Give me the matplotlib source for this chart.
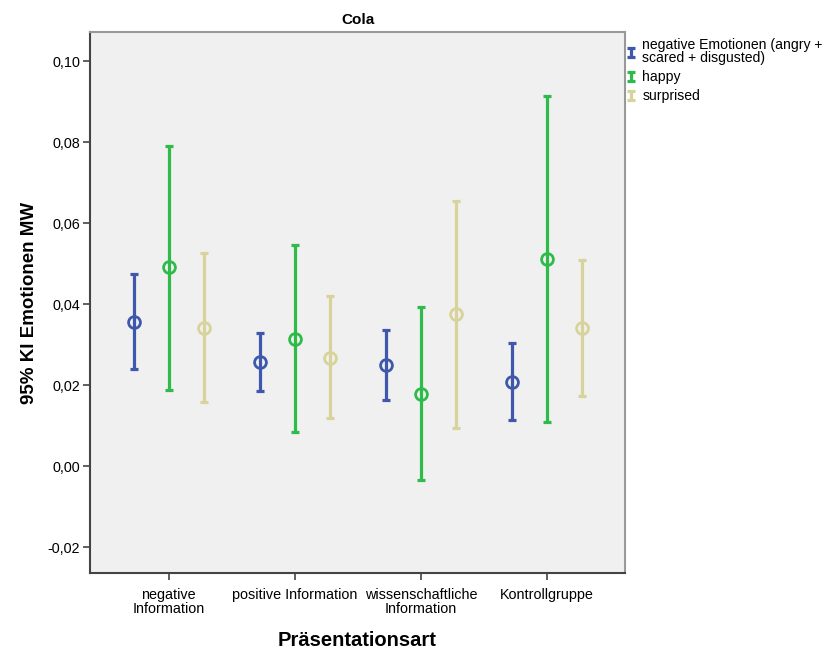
import matplotlib.pyplot as plt
import numpy as np
from matplotlib.container import ErrorbarContainer
from matplotlib.legend_handler import HandlerErrorbar

plt.rcParams['font.family'] = ['Liberation Sans', 'DejaVu Sans']

# Kategorien und Gruppen
categories = ['negative\nInformation', 'positive Information', 'wissenschaftliche\nInformation', 'Kontrollgruppe']
series_names = ['negative Emotionen (angry +\nscared + disgusted)', 'happy', 'surprised']
colors = ['#3f58ab', '#2fbb4a', '#d7d39b']

# Mittelwerte und 95%-KI (untere / obere Grenze)
means = [
    [0.0356, 0.0258, 0.0249, 0.0208],
    [0.0491, 0.0315, 0.0179, 0.0511],
    [0.0342, 0.0268, 0.0375, 0.0341],
]
lower = [
    [0.0240, 0.0185, 0.0163, 0.0114],
    [0.0189, 0.0085, -0.0035, 0.0109],
    [0.0158, 0.0118, 0.0093, 0.0173],
]
upper = [
    [0.0474, 0.0329, 0.0336, 0.0303],
    [0.0790, 0.0546, 0.0392, 0.0914],
    [0.0526, 0.0420, 0.0655, 0.0509],
]

fig = plt.figure(figsize=(8.29, 6.51), dpi=100)
ax = fig.add_axes([0.1086, 0.1198, 0.6454, 0.831])
ax.set_facecolor('#f0f0f0')

x = np.arange(len(categories))
offsets = [-0.28, 0.0, 0.28]
handles = []
for i in range(3):
    m = np.array(means[i])
    lo = m - np.array(lower[i])
    hi = np.array(upper[i]) - m
    eb = ax.errorbar(x + offsets[i], m, yerr=[lo, hi], fmt='none',
                     ecolor=colors[i], elinewidth=2.3, capsize=3.2, capthick=2.3,
                     label=series_names[i])
    handles.append(eb)
    ax.plot(x + offsets[i], m, 'o', ms=8.5, mfc='none', mec=colors[i], mew=2.0)

ax.set_xlim(-0.625, 3.62)
ax.set_ylim(-0.0264, 0.1072)
ax.set_xticks(x)
ax.set_xticklabels(categories, fontsize=10.4, linespacing=0.95)
yt = np.arange(-0.02, 0.101, 0.02)
ax.set_yticks(yt)
ax.set_yticklabels([f'{v:.2f}'.replace('.', ',') for v in yt], fontsize=10.4)
ax.tick_params(direction='out', length=5, width=1.2, color='#444444', pad=2)
ax.tick_params(axis='x', pad=6)

for s in ['top', 'right']:
    ax.spines[s].set_color('#999999')
    ax.spines[s].set_linewidth(1.5)
for s in ['left', 'bottom']:
    ax.spines[s].set_color('#444444')
    ax.spines[s].set_linewidth(1.5)

ax.set_title('Cola', fontsize=11, fontweight='bold', pad=6)
ax.set_ylabel('95% KI Emotionen MW', fontsize=13.5, fontweight='bold', labelpad=7)
ax.set_xlabel('Präsentationsart', fontsize=14.5, fontweight='bold', labelpad=11)

fig.legend(handles=handles, labels=series_names, loc='upper left',
           bbox_to_anchor=(627 / 829, 1 - 38 / 651), frameon=False,
           fontsize=10.1, handlelength=0.6, handletextpad=0.5,
           labelspacing=0.35, borderaxespad=0, borderpad=0,
           handler_map={ErrorbarContainer: HandlerErrorbar(yerr_size=0.32)})
for t in fig.legends[0].get_texts():
    t.set_linespacing(0.95)

fig.savefig('out.png', dpi=100)
